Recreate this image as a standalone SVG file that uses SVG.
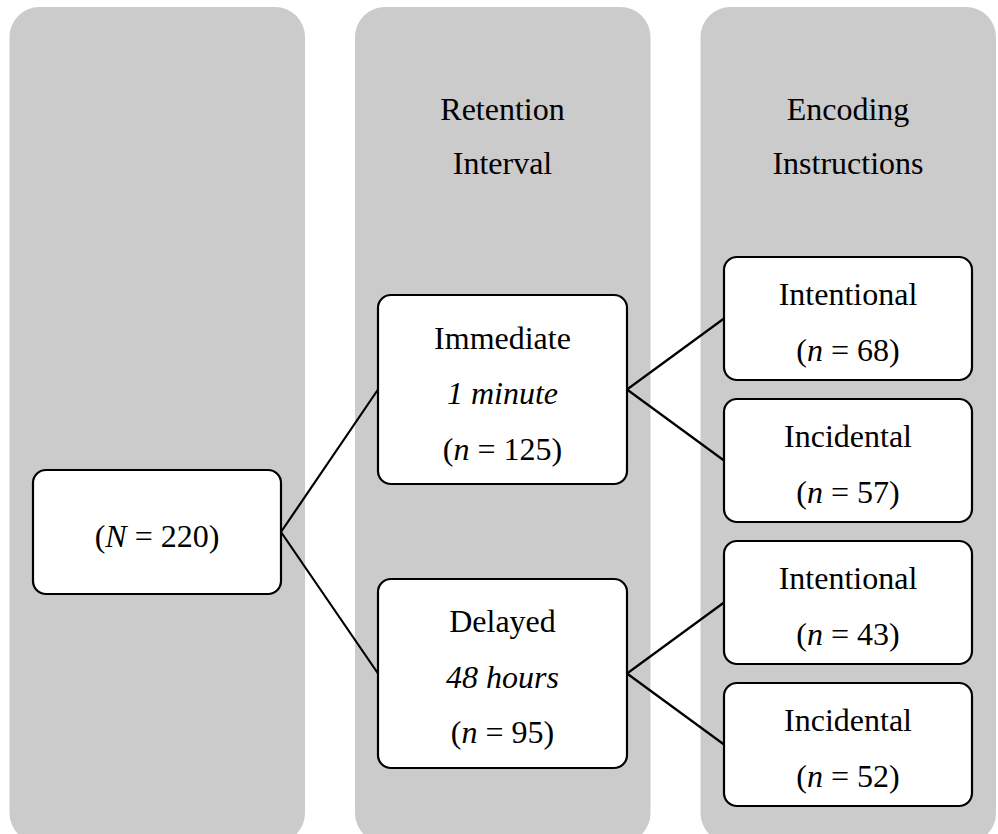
<svg xmlns="http://www.w3.org/2000/svg" width="998" height="834" viewBox="0 0 998 834">
<style>
.panel{fill:#cbcbcb;stroke:none}
.box{fill:#ffffff;stroke:#000000;stroke-width:2.2}
.conn line{stroke:#000000;stroke-width:2.2;stroke-linecap:round}
.t text{font-size:32px;fill:#000000;text-anchor:middle}
.it{font-style:italic}
</style>
<rect width="998" height="834" fill="#ffffff"/>
<g id="panels">
<rect class="panel" x="9.5" y="7" width="295.5" height="836" rx="30" ry="30"/>
<rect class="panel" x="355" y="7" width="295.5" height="836" rx="30" ry="30"/>
<rect class="panel" x="700.5" y="7" width="295.5" height="836" rx="30" ry="30"/>
</g>
<g class="conn" id="connectors">
<line x1="281" y1="532" x2="378" y2="389.5"/>
<line x1="281" y1="532" x2="378" y2="673.5"/>
<line x1="627" y1="389.5" x2="724" y2="318.5"/>
<line x1="627" y1="389.5" x2="724" y2="460.5"/>
<line x1="627" y1="673.5" x2="724" y2="602.5"/>
<line x1="627" y1="673.5" x2="724" y2="744.5"/>
</g>
<g class="t" font-family="Liberation Serif, Times New Roman, DejaVu Serif, serif">
<g id="header-retention">
<text x="502.5" y="120">Retention</text>
<text x="502.5" y="174">Interval</text>
</g>
<g id="header-encoding">
<text x="848" y="120">Encoding</text>
<text x="848" y="174">Instructions</text>
</g>
<g id="node-total">
<rect class="box" x="33" y="470" width="248" height="124" rx="13" ry="13"/>
<text x="157" y="547">(<tspan class="it">N</tspan> = 220)</text>
</g>
<g id="node-immediate">
<rect class="box" x="378" y="295" width="249" height="189" rx="13" ry="13"/>
<text x="502.5" y="349">Immediate</text>
<text x="502.5" y="404" class="it">1 minute</text>
<text x="502.5" y="460">(<tspan class="it">n</tspan> = 125)</text>
</g>
<g id="node-delayed">
<rect class="box" x="378" y="579" width="249" height="189" rx="13" ry="13"/>
<text x="502.5" y="632">Delayed</text>
<text x="502.5" y="688" class="it">48 hours</text>
<text x="502.5" y="743">(<tspan class="it">n</tspan> = 95)</text>
</g>
<g id="node-imm-intentional">
<rect class="box" x="724" y="257" width="248" height="123" rx="13" ry="13"/>
<text x="848" y="305">Intentional</text>
<text x="848" y="361">(<tspan class="it">n</tspan> = 68)</text>
</g>
<g id="node-imm-incidental">
<rect class="box" x="724" y="399" width="248" height="123" rx="13" ry="13"/>
<text x="848" y="447">Incidental</text>
<text x="848" y="503">(<tspan class="it">n</tspan> = 57)</text>
</g>
<g id="node-del-intentional">
<rect class="box" x="724" y="541" width="248" height="123" rx="13" ry="13"/>
<text x="848" y="589">Intentional</text>
<text x="848" y="645">(<tspan class="it">n</tspan> = 43)</text>
</g>
<g id="node-del-incidental">
<rect class="box" x="724" y="683" width="248" height="123" rx="13" ry="13"/>
<text x="848" y="731">Incidental</text>
<text x="848" y="787">(<tspan class="it">n</tspan> = 52)</text>
</g>
</g>
</svg>
